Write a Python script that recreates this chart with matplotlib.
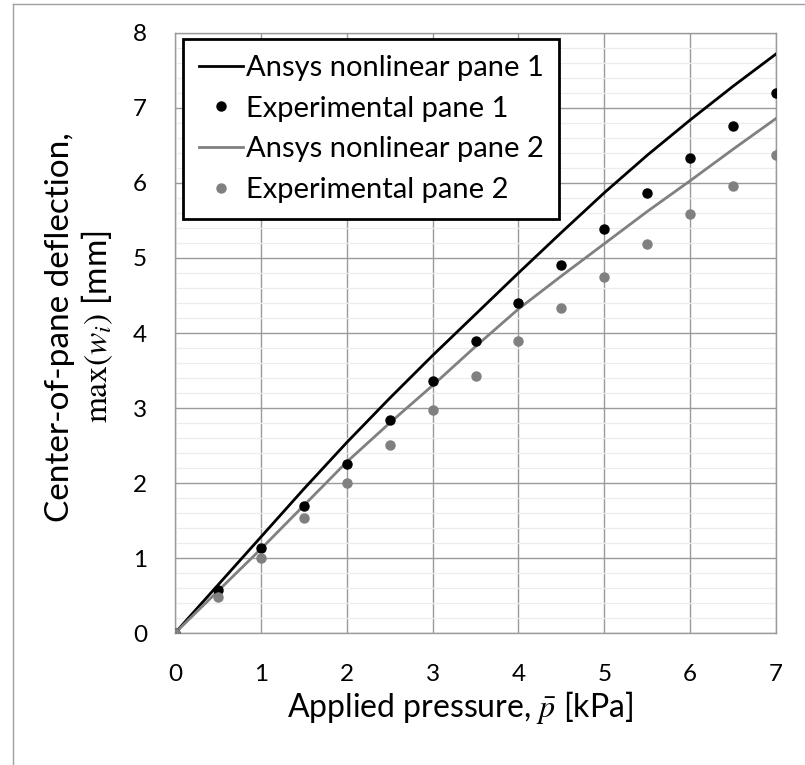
import numpy as np
import matplotlib
matplotlib.use('Agg')
import matplotlib.pyplot as plt
from matplotlib.lines import Line2D
from matplotlib.ticker import MultipleLocator

# ============ DADOS ============
pressao = [0, 0.5, 1, 1.5, 2, 2.5, 3, 3.5, 4, 4.5, 5, 5.5, 6, 6.5, 7]

ansys_pane1 = [0, 0.64, 1.28, 1.92, 2.54, 3.13, 3.70, 4.25, 4.80, 5.34, 5.87, 6.37, 6.84, 7.29, 7.72]
exp_pane1 = [0, 0.58, 1.14, 1.70, 2.26, 2.84, 3.36, 3.89, 4.40, 4.91, 5.39, 5.87, 6.33, 6.76, 7.20]
ansys_pane2 = [0, 0.56, 1.12, 1.70, 2.28, 2.80, 3.30, 3.82, 4.32, 4.76, 5.19, 5.62, 6.03, 6.45, 6.86]
exp_pane2 = [0, 0.48, 1.00, 1.53, 2.00, 2.51, 2.97, 3.43, 3.89, 4.34, 4.74, 5.18, 5.58, 5.96, 6.37]

x_ticks = [0, 1, 2, 3, 4, 5, 6, 7]
y_ticks = [0, 1, 2, 3, 4, 5, 6, 7, 8]

# ============ ESTILO ============
plt.rcParams['font.family'] = ['Lato', 'DejaVu Sans']
plt.rcParams['mathtext.fontset'] = 'stix'

cinza_grid = '#9a9a9a'
cinza_serie = '#808080'

fig = plt.figure(figsize=(8.05, 7.65), dpi=100)
ax = fig.add_axes([0.2174, 0.1725, 0.7466, 0.7844])

ax.plot(pressao, ansys_pane1, color='black', lw=2.0, label='Ansys nonlinear pane 1', zorder=3)
ax.plot(pressao, exp_pane1, 'o', color='black', ms=6.5, label='Experimental pane 1', zorder=4)
ax.plot(pressao, ansys_pane2, color=cinza_serie, lw=2.0, label='Ansys nonlinear pane 2', zorder=3)
ax.plot(pressao, exp_pane2, 'o', color=cinza_serie, ms=6.5, label='Experimental pane 2', zorder=4)

ax.set_xlim(0, 7)
ax.set_ylim(0, 8)
ax.set_xticks(x_ticks)
ax.set_yticks(y_ticks)
ax.yaxis.set_minor_locator(MultipleLocator(0.2))
ax.grid(True, which='major', color=cinza_grid, lw=1.0)
ax.grid(True, which='minor', axis='y', color='#ececec', lw=0.9)
ax.set_axisbelow(True)
ax.tick_params(which='both', length=0, labelsize=17.5)
ax.tick_params(axis='x', pad=22)
ax.tick_params(axis='y', pad=20)
for s in ax.spines.values():
    s.set_color(cinza_grid)
    s.set_linewidth(1.0)

ax.set_xlabel(r'Applied pressure, $\bar{p}$ [kPa]', fontsize=23)
ax.xaxis.set_label_coords(0.475, -0.093)
ax.set_ylabel('Center-of-pane deflection,\n' + r'$\mathrm{max}(w_i)$ [mm]', fontsize=24,
              linespacing=1.15)
ax.yaxis.set_label_coords(-0.10, 0.51)

leg = ax.legend(loc='upper left', bbox_to_anchor=(0.013, 0.99), fontsize=21, frameon=True,
                fancybox=False, edgecolor='black', handlelength=1.5, handletextpad=0.1,
                labelspacing=0.5, borderpad=0.55, borderaxespad=0.0)
leg.get_frame().set_linewidth(2.0)
leg.get_frame().set_alpha(1)

# moldura da figura (só esquerda e topo)
fig.add_artist(Line2D([13 / 805, 13 / 805], [0, 1 - 4 / 765], transform=fig.transFigure,
                      color='#a0a0a0', lw=1.0))
fig.add_artist(Line2D([13 / 805, 1], [1 - 4 / 765, 1 - 4 / 765], transform=fig.transFigure,
                      color='#a0a0a0', lw=1.0))

fig.savefig('out.png', dpi=100)
